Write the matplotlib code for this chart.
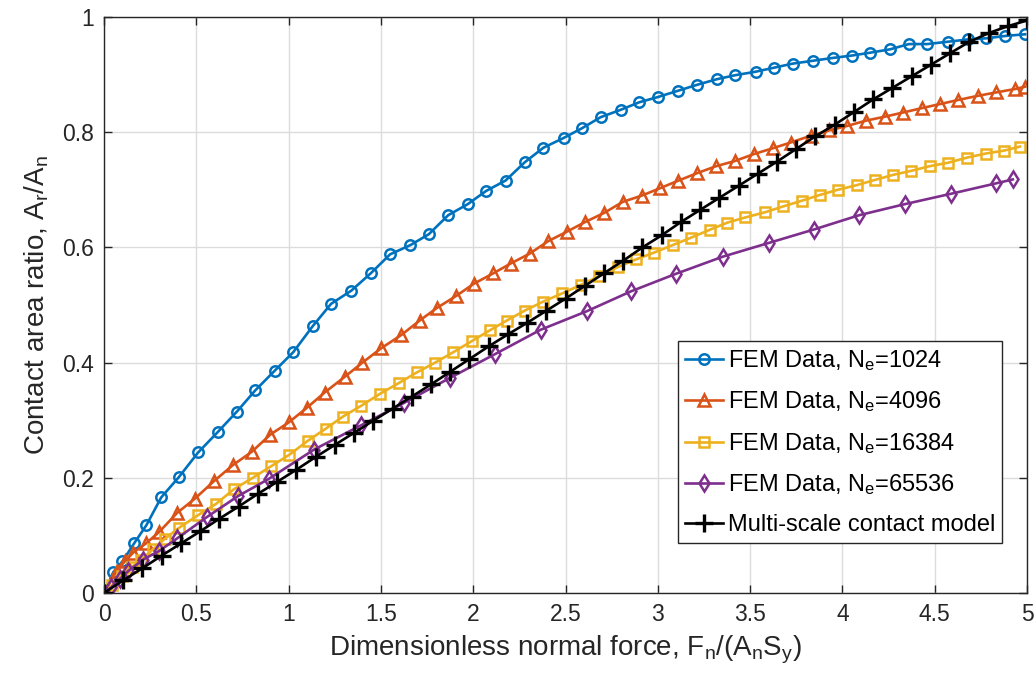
import matplotlib
matplotlib.use("Agg")
import matplotlib.pyplot as plt

plt.rcParams["font.family"] = ["Liberation Sans", "DejaVu Sans"]
plt.rcParams["mathtext.default"] = "regular"

# Dimensionless normal force / contact area ratio, FEM results per mesh size
force_1024 = [0, 0.05, 0.10, 0.165, 0.23, 0.31, 0.405, 0.51, 0.615, 0.72, 0.82, 0.925, 1.025,
              1.13, 1.23, 1.34, 1.445, 1.55, 1.66, 1.76, 1.865, 1.97, 2.07, 2.175, 2.28, 2.38,
              2.49, 2.59, 2.69, 2.80, 2.90, 3.00, 3.11, 3.21, 3.32, 3.42, 3.53, 3.63, 3.73,
              3.84, 3.95, 4.05, 4.15, 4.26, 4.36, 4.46, 4.57, 4.68, 4.78, 4.88, 4.99]
area_1024 = [0, 0.036, 0.055, 0.087, 0.118, 0.166, 0.201, 0.244, 0.279, 0.315, 0.352, 0.386,
             0.418, 0.463, 0.502, 0.525, 0.555, 0.588, 0.604, 0.623, 0.656, 0.675, 0.698, 0.716,
             0.748, 0.773, 0.790, 0.807, 0.826, 0.839, 0.852, 0.861, 0.872, 0.882, 0.892, 0.899,
             0.905, 0.912, 0.919, 0.924, 0.929, 0.933, 0.938, 0.944, 0.953, 0.953, 0.957, 0.961,
             0.963, 0.967, 0.970]

force_4096 = [0, 0.068, 0.113, 0.158, 0.227, 0.299, 0.396, 0.493, 0.595, 0.698, 0.800, 0.901,
              1.000, 1.097, 1.195, 1.303, 1.400, 1.502, 1.611, 1.710, 1.804, 1.909, 2.004, 2.109,
              2.203, 2.305, 2.407, 2.506, 2.606, 2.710, 2.810, 2.914, 3.014, 3.112, 3.214, 3.316,
              3.418, 3.520, 3.622, 3.719, 3.830, 3.928, 4.027, 4.127, 4.231, 4.327, 4.433, 4.531,
              4.628, 4.732, 4.832, 4.936, 4.990]
area_4096 = [0, 0.038, 0.055, 0.070, 0.086, 0.106, 0.139, 0.164, 0.194, 0.222, 0.245, 0.275,
             0.296, 0.321, 0.348, 0.375, 0.400, 0.425, 0.448, 0.473, 0.495, 0.516, 0.537, 0.555,
             0.572, 0.589, 0.611, 0.627, 0.644, 0.660, 0.679, 0.690, 0.703, 0.716, 0.729, 0.741,
             0.750, 0.762, 0.772, 0.782, 0.794, 0.803, 0.811, 0.820, 0.827, 0.834, 0.842, 0.849,
             0.856, 0.863, 0.869, 0.875, 0.879]

force_16384 = [0, 0.045, 0.095, 0.15, 0.203, 0.266, 0.329, 0.406, 0.509, 0.608, 0.703, 0.806,
               0.905, 1.004, 1.103, 1.20, 1.293, 1.393, 1.496, 1.60, 1.695, 1.794, 1.892, 1.991,
               2.090, 2.182, 2.278, 2.380, 2.481, 2.583, 2.682, 2.785, 2.881, 2.98, 3.081, 3.181,
               3.285, 3.377, 3.474, 3.581, 3.678, 3.780, 3.878, 3.975, 4.077, 4.175, 4.276, 4.374,
               4.473, 4.573, 4.677, 4.777, 4.875, 4.962]
area_16384 = [0, 0.014, 0.030, 0.045, 0.058, 0.076, 0.094, 0.113, 0.135, 0.155, 0.180, 0.200,
              0.220, 0.240, 0.264, 0.285, 0.306, 0.325, 0.346, 0.365, 0.383, 0.400, 0.418, 0.437,
              0.456, 0.473, 0.490, 0.506, 0.520, 0.535, 0.550, 0.566, 0.579, 0.591, 0.604, 0.617,
              0.631, 0.643, 0.652, 0.661, 0.671, 0.681, 0.691, 0.700, 0.708, 0.717, 0.726, 0.733,
              0.741, 0.747, 0.756, 0.763, 0.768, 0.775]

force_65536 = [0, 0.04, 0.085, 0.131, 0.212, 0.299, 0.397, 0.558, 0.725, 0.892, 1.138, 1.392,
               1.625, 1.877, 2.120, 2.365, 2.614, 2.857, 3.097, 3.353, 3.604, 3.845, 4.092, 4.337,
               4.587, 4.830, 4.923]
area_65536 = [0, 0.010, 0.024, 0.038, 0.058, 0.073, 0.095, 0.132, 0.168, 0.198, 0.249, 0.291,
              0.330, 0.374, 0.415, 0.457, 0.489, 0.524, 0.554, 0.584, 0.608, 0.631, 0.656, 0.675,
              0.693, 0.711, 0.718]

# Multi-scale contact model prediction
force_model = [0.000, 0.104, 0.208, 0.313, 0.417, 0.521, 0.625, 0.729, 0.833, 0.938, 1.042,
               1.146, 1.250, 1.354, 1.458, 1.563, 1.667, 1.771, 1.875, 1.979, 2.083, 2.188,
               2.292, 2.396, 2.500, 2.604, 2.708, 2.813, 2.917, 3.021, 3.125, 3.229, 3.333,
               3.438, 3.542, 3.646, 3.750, 3.854, 3.958, 4.063, 4.167, 4.271, 4.375, 4.479,
               4.583, 4.688, 4.792, 4.896, 5.000]
area_model = [0.000, 0.022, 0.043, 0.065, 0.086, 0.107, 0.129, 0.150, 0.172, 0.193, 0.214,
              0.236, 0.257, 0.278, 0.299, 0.320, 0.341, 0.362, 0.384, 0.406, 0.428, 0.449,
              0.469, 0.490, 0.511, 0.533, 0.555, 0.577, 0.600, 0.621, 0.644, 0.665, 0.686,
              0.707, 0.728, 0.749, 0.771, 0.793, 0.813, 0.835, 0.857, 0.877, 0.897, 0.917,
              0.937, 0.957, 0.972, 0.984, 0.994]

x_ticks = [0, 0.5, 1, 1.5, 2, 2.5, 3, 3.5, 4, 4.5, 5]
x_tick_labels = ["0", "0.5", "1", "1.5", "2", "2.5", "3", "3.5", "4", "4.5", "5"]
y_ticks = [0, 0.2, 0.4, 0.6, 0.8, 1]
y_tick_labels = ["0", "0.2", "0.4", "0.6", "0.8", "1"]

fig = plt.figure(figsize=(10.36, 6.88), dpi=100)
ax = fig.add_axes([0.1004, 0.1381, 0.8909, 0.8372])

lw = 1.9
mew = 1.8
ax.plot(force_1024, area_1024, "-o", color="#0072BD", lw=lw, ms=7.5, mew=mew,
        mfc="none", label="FEM Data, N$_e$=1024")
ax.plot(force_4096, area_4096, "-^", color="#D95319", lw=lw, ms=8, mew=mew,
        mfc="none", label="FEM Data, N$_e$=4096")
ax.plot(force_16384, area_16384, "-s", color="#EDB120", lw=lw, ms=6.5, mew=mew,
        mfc="none", label="FEM Data, N$_e$=16384")
ax.plot(force_65536, area_65536, "-d", color="#7E2F8E", lw=lw, ms=8.5, mew=mew,
        mfc="none", label="FEM Data, N$_e$=65536")
ax.plot(force_model, area_model, "-+", color="black", lw=lw, ms=13, mew=2.4,
        label="Multi-scale contact model")

ax.set_xlim(0, 5)
ax.set_ylim(0, 1)
ax.set_xticks(x_ticks)
ax.set_xticklabels(x_tick_labels)
ax.set_yticks(y_ticks)
ax.set_yticklabels(y_tick_labels)
ax.tick_params(direction="in", length=6, width=1, colors="#262626", labelsize=16.5,
               top=True, right=True, pad=7)
for spine in ax.spines.values():
    spine.set_color("#262626")
    spine.set_linewidth(1)
ax.grid(True, color="#dcdcdc", linewidth=1)
ax.set_axisbelow(True)

ax.set_xlabel("Dimensionless normal force, F$_n$/(A$_n$S$_y$)", fontsize=20,
              color="#262626", labelpad=6)
ax.set_ylabel("Contact area ratio, A$_r$/A$_n$", fontsize=20, color="#262626",
              labelpad=8)

leg = ax.legend(loc="lower right", bbox_to_anchor=(0.973, 0.087), fontsize=17,
                frameon=True, fancybox=False, edgecolor="#262626", framealpha=1,
                handlelength=1.6, handletextpad=0.2, borderpad=0.3, labelspacing=0.7,
                borderaxespad=0)
leg.get_frame().set_linewidth(1)

fig.savefig("out.png", dpi=100)
